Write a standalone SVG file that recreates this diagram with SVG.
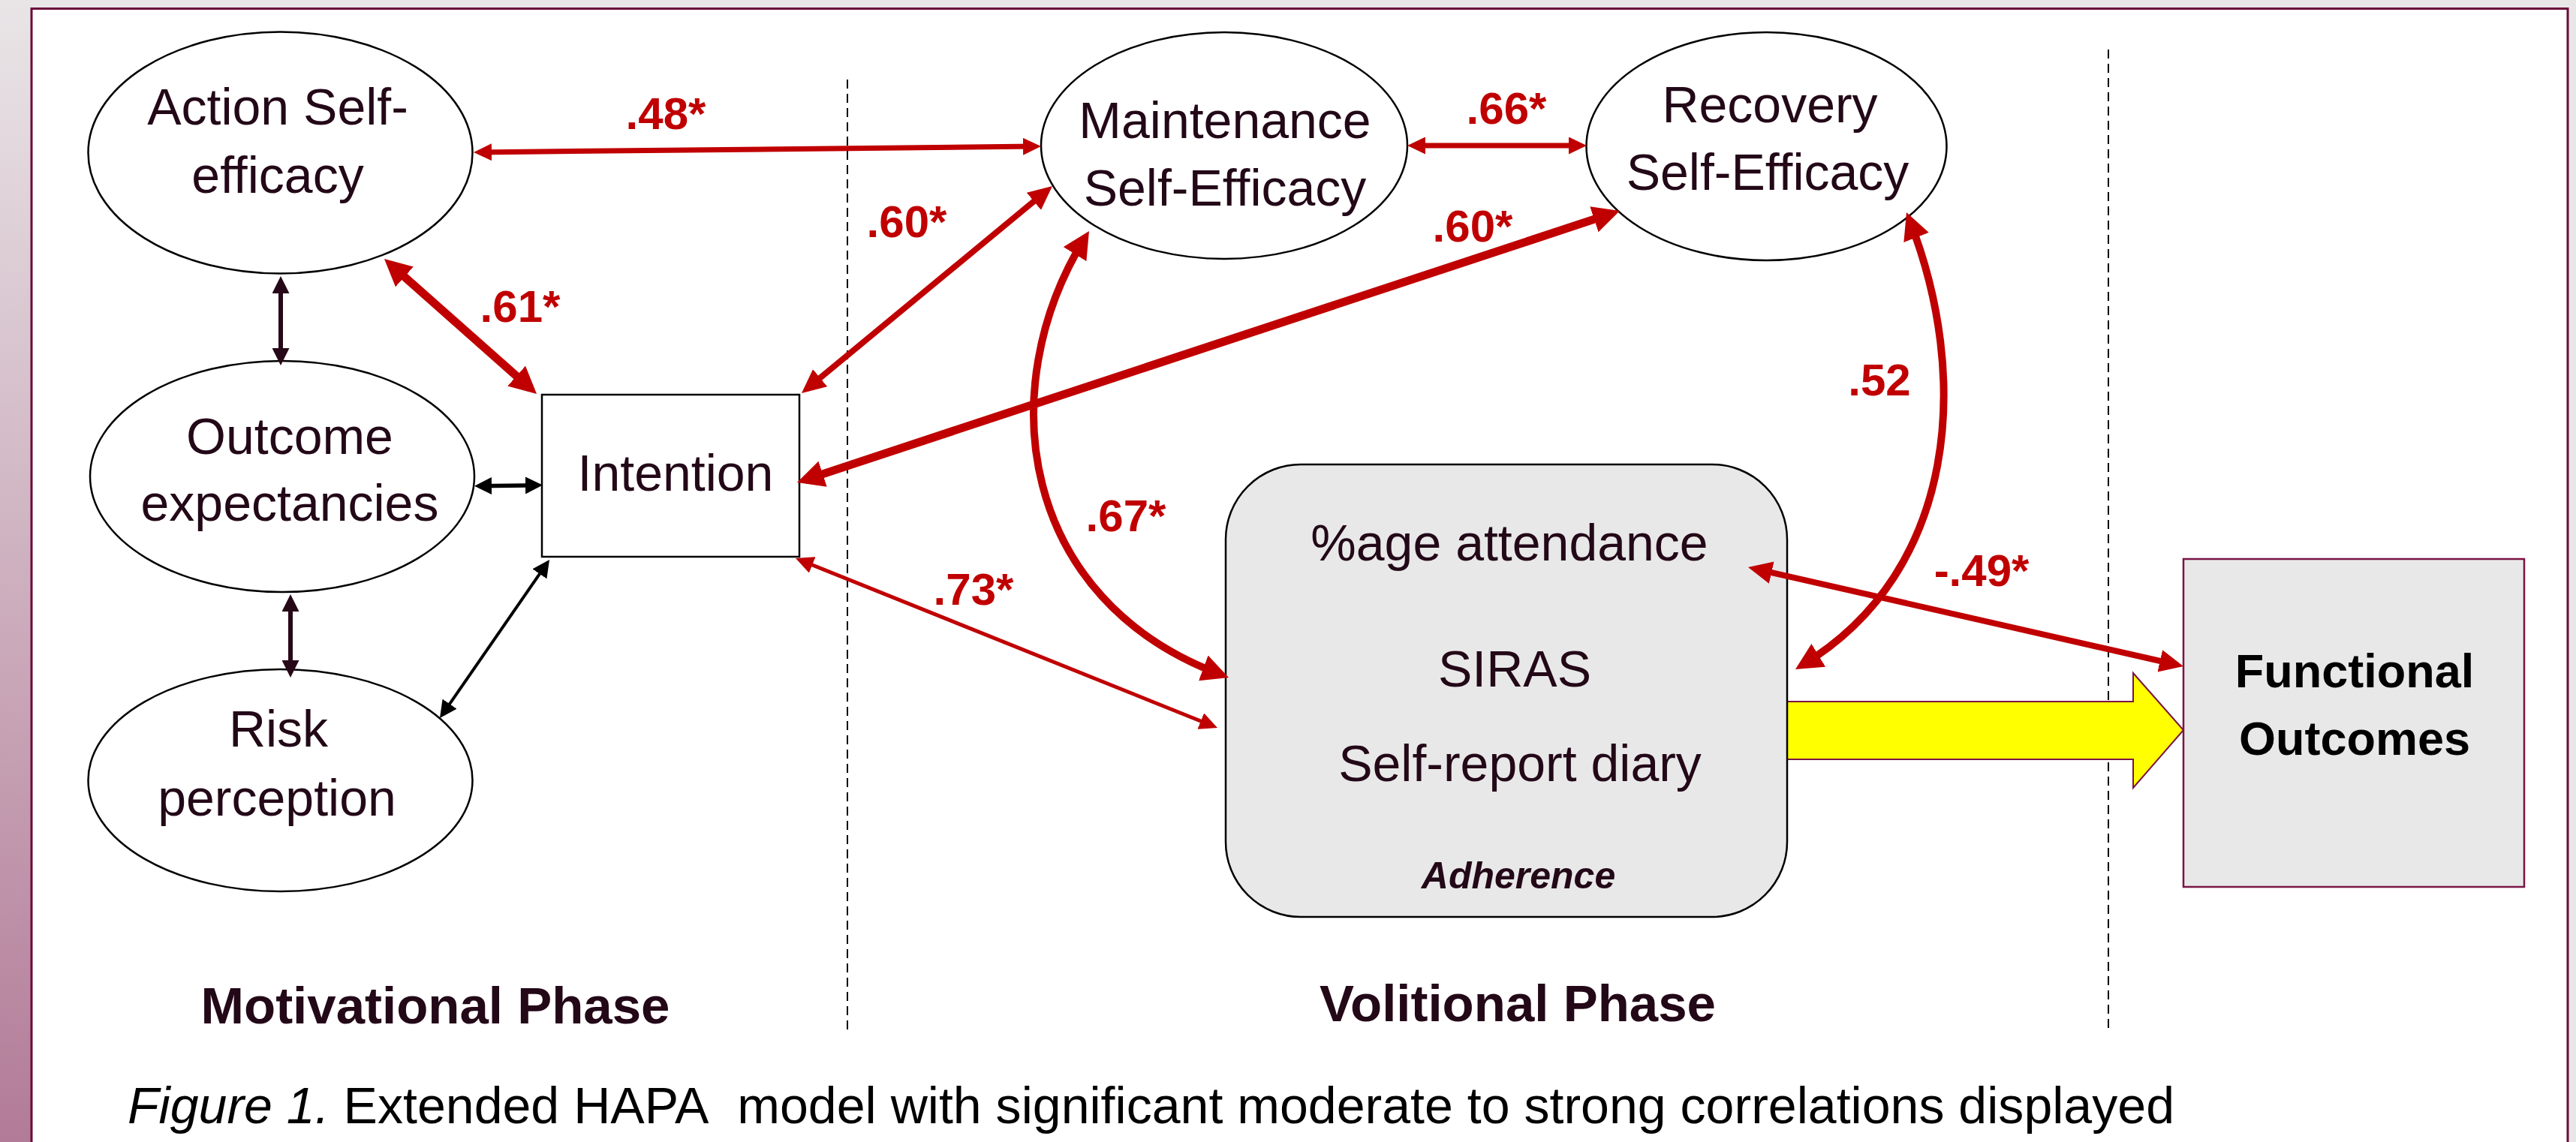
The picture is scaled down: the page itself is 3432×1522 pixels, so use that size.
<svg xmlns="http://www.w3.org/2000/svg" width="3432" height="1522" viewBox="0 0 3432 1522">
  <defs>
    <linearGradient id="sideStrip" x1="0" y1="0" x2="0" y2="1">
      <stop offset="0" stop-color="#e9e5e7"/>
      <stop offset="1" stop-color="#b27b97"/>
    </linearGradient>
    <!-- arrowheads: tip points along +x, line ends a little inside the head -->
    <marker id="redL" markerUnits="userSpaceOnUse" markerWidth="36" markerHeight="36" refX="25" refY="18" orient="auto-start-reverse">
      <path d="M0,0 L36,18 L0,36 Z" fill="#c00000"/>
    </marker>
    <marker id="redM" markerUnits="userSpaceOnUse" markerWidth="32" markerHeight="30" refX="23" refY="15" orient="auto-start-reverse">
      <path d="M0,0 L32,15 L0,30 Z" fill="#c00000"/>
    </marker>
    <marker id="redS" markerUnits="userSpaceOnUse" markerWidth="24" markerHeight="23" refX="16" refY="11.5" orient="auto-start-reverse">
      <path d="M0,0 L24,11.5 L0,23 Z" fill="#c00000"/>
    </marker>
    <marker id="blk" markerUnits="userSpaceOnUse" markerWidth="23" markerHeight="23" refX="17" refY="11.5" orient="auto-start-reverse">
      <path d="M0,0 L23,11.5 L0,23 Z" fill="#000"/>
    </marker>
    <marker id="plum" markerUnits="userSpaceOnUse" markerWidth="23" markerHeight="23" refX="17" refY="11.5" orient="auto-start-reverse">
      <path d="M0,0 L23,11.5 L0,23 Z" fill="#260818"/>
    </marker>
    <style>
      .node { fill: #ffffff; stroke: #000; stroke-width: 2.5; }
      .lbl { font-family: "Liberation Sans", Arial, sans-serif; font-size: 68px; fill: #230818; text-anchor: middle; }
      .coef { font-family: "Liberation Sans", Arial, sans-serif; font-size: 60px; font-weight: bold; fill: #c00000; text-anchor: middle; }
      .phase { font-family: "Liberation Sans", Arial, sans-serif; font-size: 69px; font-weight: bold; fill: #230818; text-anchor: middle; }
      .red { fill: none; stroke: #c00000; stroke-linecap: butt; }
      .dash { stroke: #000; stroke-width: 2; stroke-dasharray: 12 7; }
    </style>
  </defs>

  <!-- page background and panel -->
  <rect x="0" y="0" width="3432" height="1522" fill="#e9e6e8"/>
  <rect x="0" y="0" width="42" height="1522" fill="url(#sideStrip)"/>
  <rect x="42" y="11.5" width="3379" height="1530" fill="#ffffff" stroke="#6b0a3b" stroke-width="3"/>

  <!-- phase separators -->
  <g id="separators">
    <line class="dash" x1="1129" y1="106" x2="1129" y2="1375"/>
    <line class="dash" x1="2809" y1="66" x2="2809" y2="1375"/>
  </g>

  <!-- yellow flow arrow from adherence to outcomes -->
  <g id="flow-arrow">
    <path d="M2381,935 L2842,935 L2842,897 L2909,973 L2842,1050 L2842,1012 L2381,1012 Z" fill="#ffff00" stroke="#7a1446" stroke-width="2"/>
  </g>

  <g id="action-self-efficacy">
    <ellipse class="node" cx="373.5" cy="203.5" rx="256" ry="161"/>
    <text class="lbl" x="370" y="166">Action Self-</text>
    <text class="lbl" x="370" y="257">efficacy</text>
  </g>

  <g id="outcome-expectancies">
    <ellipse class="node" cx="376" cy="635" rx="256" ry="154"/>
    <text class="lbl" x="386" y="605">Outcome</text>
    <text class="lbl" x="386" y="694">expectancies</text>
  </g>

  <g id="risk-perception">
    <ellipse class="node" cx="373.5" cy="1040" rx="256" ry="148"/>
    <text class="lbl" x="371" y="995">Risk</text>
    <text class="lbl" x="369" y="1087">perception</text>
  </g>

  <g id="intention">
    <rect class="node" x="722" y="526" width="343" height="216"/>
    <text class="lbl" x="900" y="654">Intention</text>
  </g>

  <g id="maintenance-self-efficacy">
    <ellipse class="node" cx="1631" cy="194" rx="244" ry="151"/>
    <text class="lbl" x="1632" y="184">Maintenance</text>
    <text class="lbl" x="1632" y="274">Self-Efficacy</text>
  </g>

  <g id="recovery-self-efficacy">
    <ellipse class="node" cx="2353.5" cy="195" rx="240" ry="152"/>
    <text class="lbl" x="2358" y="163">Recovery</text>
    <text class="lbl" x="2355" y="253">Self-Efficacy</text>
  </g>

  <g id="adherence">
    <rect x="1633" y="619" width="748" height="603" rx="100" ry="100" fill="#e8e8e8" stroke="#000" stroke-width="2.5"/>
    <text class="lbl" x="2011" y="747">%age attendance</text>
    <text class="lbl" x="2018" y="915">SIRAS</text>
    <text class="lbl" x="2025" y="1041">Self-report diary</text>
    <text class="lbl" x="2023" y="1184" style="font-size:50px;font-weight:bold;font-style:italic">Adherence</text>
  </g>

  <g id="functional-outcomes">
    <rect x="2909" y="745" width="454" height="437" fill="#e8e8e8" stroke="#7a1446" stroke-width="2.5"/>
    <text class="lbl" x="3137" y="916" style="font-size:63px;font-weight:bold;fill:#000">Functional</text>
    <text class="lbl" x="3137" y="1006" style="font-size:63px;font-weight:bold;fill:#000">Outcomes</text>
  </g>

  <!-- correlation connectors -->
  <g id="connectors">
    <line x1="374" y1="374" x2="374" y2="481" stroke="#260818" stroke-width="6" marker-start="url(#plum)" marker-end="url(#plum)"/>
    <line x1="387" y1="798" x2="387" y2="897" stroke="#260818" stroke-width="6" marker-start="url(#plum)" marker-end="url(#plum)"/>
    <line x1="638" y1="647.7" x2="717" y2="646.7" stroke="#000" stroke-width="5.5" marker-start="url(#blk)" marker-end="url(#blk)"/>
    <line x1="589.4" y1="952.1" x2="728.6" y2="750.9" stroke="#000" stroke-width="4" marker-start="url(#blk)" marker-end="url(#blk)"/>

    <line class="red" x1="639" y1="202.9" x2="1379" y2="195.1" stroke-width="7" marker-start="url(#redS)" marker-end="url(#redS)"/>
    <line class="red" x1="1883" y1="194" x2="2106" y2="194" stroke-width="7" marker-start="url(#redS)" marker-end="url(#redS)"/>
    <line class="red" x1="520.2" y1="352.3" x2="706.8" y2="517.7" stroke-width="11" marker-start="url(#redL)" marker-end="url(#redL)"/>
    <line class="red" x1="1074.9" y1="518.3" x2="1395.1" y2="253.7" stroke-width="8" marker-start="url(#redM)" marker-end="url(#redM)"/>
    <line class="red" x1="1072.4" y1="639.6" x2="2147.6" y2="284.4" stroke-width="11" marker-start="url(#redL)" marker-end="url(#redL)"/>
    <line class="red" x1="1067.4" y1="747" x2="1614.6" y2="967" stroke-width="5" marker-start="url(#redS)" marker-end="url(#redS)"/>
    <path class="red" d="M1445.2,317.4 C1320,520 1360,800 1626.7,899.1" stroke-width="10" marker-start="url(#redL)" marker-end="url(#redL)"/>
    <path class="red" d="M2544,293.2 C2625,500 2610,760 2401.4,886.3" stroke-width="10" marker-start="url(#redL)" marker-end="url(#redL)"/>
    <line class="red" x1="2337.8" y1="758" x2="2900.2" y2="886" stroke-width="8" marker-start="url(#redM)" marker-end="url(#redM)"/>
  </g>

  <!-- coefficient labels -->
  <g id="coefficients">
    <text class="coef" x="887" y="172">.48*</text>
    <text class="coef" x="2007" y="165">.66*</text>
    <text class="coef" x="693" y="429">.61*</text>
    <text class="coef" x="1208" y="316">.60*</text>
    <text class="coef" x="1962" y="322">.60*</text>
    <text class="coef" x="1297" y="806">.73*</text>
    <text class="coef" x="1500" y="708">.67*</text>
    <text class="coef" x="2504" y="527">.52</text>
    <text class="coef" x="2640" y="781">-.49*</text>
  </g>

  <g id="phase-labels">
    <text class="phase" x="580" y="1364">Motivational Phase</text>
    <text class="phase" x="2022" y="1361">Volitional Phase</text>
  </g>

  <text id="caption" x="170" y="1497" textLength="2727" lengthAdjust="spacingAndGlyphs" style="font-family:'Liberation Sans',Arial,sans-serif;font-size:68px;fill:#000"><tspan font-style="italic">Figure 1.</tspan> Extended HAPA&#160; model with significant moderate to strong correlations displayed</text>
</svg>
